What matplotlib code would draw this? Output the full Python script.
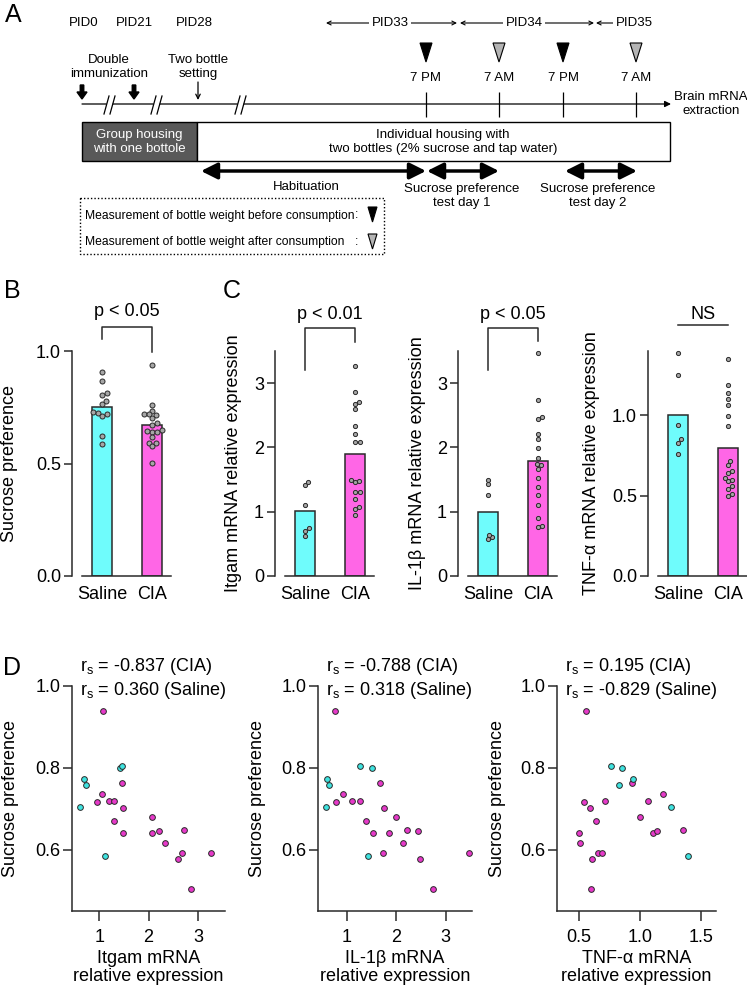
import numpy as np
import matplotlib.pyplot as plt
from matplotlib.patches import Rectangle, Polygon, FancyArrow

plt.rcParams['font.family'] = ['Liberation Sans', 'DejaVu Sans']
plt.rcParams['mathtext.fontset'] = 'custom'
plt.rcParams['mathtext.rm'] = 'Liberation Sans'
plt.rcParams['mathtext.default'] = 'regular'

# ----------------------------
# Data
# ----------------------------

groups = ['Saline', 'CIA']

# panel B (all mice)
sp_saline_b = [0.905, 0.867, 0.812, 0.804, 0.778, 0.763, 0.729, 0.726, 0.719, 0.711, 0.622, 0.588]

# mice with brain mRNA (panels C, D)
sp_saline = [0.704, 0.772, 0.757, 0.799, 0.805, 0.584]
itgam_saline = [0.62, 0.70, 0.74, 1.42, 1.47, 1.11]
il1b_saline = [0.575, 0.60, 0.64, 1.50, 1.26, 1.43]
tnf_saline = [1.25, 0.94, 0.83, 0.85, 0.76, 1.39]

sp_cia = [0.939, 0.716, 0.735, 0.720, 0.718, 0.762, 0.701, 0.670, 0.640,
          0.679, 0.640, 0.646, 0.616, 0.648, 0.593, 0.577, 0.592, 0.504]
itgam_cia = [1.08, 0.95, 1.05, 1.20, 1.30, 1.46, 1.49, 1.31, 1.48,
             2.08, 2.08, 2.21, 2.33, 2.71, 2.68, 2.60, 3.26, 2.86]
il1b_cia = [0.76, 0.78, 0.91, 1.10, 1.26, 1.67, 1.75, 1.38, 1.52,
            1.99, 1.84, 2.44, 2.13, 2.21, 1.72, 2.47, 3.47, 2.74]
tnf_cia = [0.56, 0.544, 1.19, 0.713, 1.066, 0.936, 0.59, 0.642, 0.50,
           0.996, 1.102, 1.137, 0.509, 1.35, 0.653, 0.61, 0.688, 0.60]

rs_cia = ['-0.837', '-0.788', '0.195']
rs_saline = ['0.360', '0.318', '-0.829']

# timeline labels (panel A)
pid_labels = ['PID0', 'PID21', 'PID28']
span_labels = ['PID33', 'PID34', 'PID35']
meas_times = ['7 PM', '7 AM', '7 PM', '7 AM']
meas_kind = ['before', 'after', 'before', 'after']

# ----------------------------
# Figure helpers
# ----------------------------

W, H = 747, 992
fig = plt.figure(figsize=(W / 100, H / 100), dpi=100)

cyan_bar = '#6ffcfc'
mag_bar = '#ff66e6'
cyan_pt = '#3fe3e0'
mag_pt = '#e639c9'
dot_gray = '#a6a6a6'
edge = '#2a2a2a'


def px_axes(left, top, right, bottom):
    return fig.add_axes([left / W, 1 - bottom / H, (right - left) / W, (bottom - top) / H])


def ptext(x, y, s, **kw):
    fig.text(x / W, 1 - y / H, s, **kw)


def swarm(values, y_scale, x_scale, dot):
    # simple beeswarm in pixel space
    placed = []
    offsets = np.zeros(len(values))
    for i in np.argsort(values):
        y = values[i] * y_scale
        found = 0.0
        for step in range(0, 60):
            cands = [0.0] if step == 0 else [step * 0.5, -step * 0.5]
            ok = [c for c in cands
                  if all((c - px) ** 2 + (y - py) ** 2 >= dot ** 2 for px, py in placed)]
            if ok:
                found = ok[0]
                break
        placed.append((found, y))
        offsets[i] = found / x_scale
    return offsets


def style_axes(ax):
    for s in ['top', 'right']:
        ax.spines[s].set_visible(False)
    for s in ['left', 'bottom']:
        ax.spines[s].set_linewidth(1.1)
        ax.spines[s].set_color(edge)
    ax.tick_params(width=1.1, color=edge, labelsize=13, direction='out')


# ----------------------------
# Panel A: timeline
# ----------------------------

axA = fig.add_axes([0, 1 - 270 / H, 1, 270 / H])
axA.set_xlim(0, W)
axA.set_ylim(270, 0)
axA.axis('off')
fa = 9.5

for lab, x in zip(pid_labels, [84, 134, 194]):
    axA.text(x, 23, lab, ha='center', va='center', fontsize=fa)

for lab, (x0, x1, xc, style) in zip(span_labels, [(326, 457, 390, '<->'),
                                                  (460, 594, 524, '<->'),
                                                  (596, 654, 634, '<-')]):
    axA.annotate('', xy=(x1, 23), xytext=(x0, 23),
                 arrowprops=dict(arrowstyle=style, lw=0.8, color='k',
                                 shrinkA=0, shrinkB=0, mutation_scale=7))
    axA.text(xc, 23, lab, ha='center', va='center', fontsize=fa,
             bbox=dict(fc='white', ec='none', pad=1.5))

meas_x = [426, 499, 563, 636]
for x, t, kind in zip(meas_x, meas_times, meas_kind):
    fc = 'black' if kind == 'before' else '#b4b4b4'
    axA.add_patch(Polygon([[x - 6, 43], [x + 6, 43], [x, 62]], closed=True,
                          fc=fc, ec='black', lw=0.8))
    axA.text(x, 78, t, ha='center', va='center', fontsize=fa)

axA.annotate('', xy=(671, 104), xytext=(82, 104),
             arrowprops=dict(arrowstyle='-|>', lw=0.9, color='k',
                             shrinkA=0, shrinkB=0, mutation_scale=9))
axA.vlines(meas_x, 92, 117, color='k', lw=0.9)

for xb in [111, 158, 242]:
    axA.add_patch(Polygon([[xb - 6, 110], [xb - 3, 98], [xb + 3, 98], [xb, 110]],
                          closed=True, fc='white', ec='none', zorder=3))
    axA.plot([xb - 7, xb - 2], [114, 96], color='k', lw=0.9, zorder=4)
    axA.plot([xb - 1, xb + 4], [114, 96], color='k', lw=0.9, zorder=4)

for x in [82, 134]:
    axA.add_patch(FancyArrow(x, 85, 0, 14, width=3.5, head_width=10, head_length=7,
                             length_includes_head=True, color='k'))
axA.annotate('', xy=(198, 100), xytext=(198, 82),
             arrowprops=dict(arrowstyle='->', lw=0.9, color='k',
                             shrinkA=0, shrinkB=0, mutation_scale=8))

axA.text(109, 67, 'Double\nimmunization', ha='center', va='center', fontsize=fa)
axA.text(198, 67, 'Two bottle\nsetting', ha='center', va='center', fontsize=fa)
axA.text(711, 104, 'Brain mRNA\nextraction', ha='center', va='center', fontsize=fa)

axA.add_patch(Rectangle((82, 122), 115, 39, fc='#595959', ec='k', lw=1))
axA.add_patch(Rectangle((197, 122), 473, 39, fc='white', ec='k', lw=1))
axA.text(139, 142, 'Group housing\nwith one bottole', ha='center', va='center',
         fontsize=fa, color='white')
axA.text(443, 142, 'Individual housing with\ntwo bottles (2% sucrose and tap water)',
         ha='center', va='center', fontsize=fa)

for x0, x1 in [(201, 426), (427, 499), (565, 637)]:
    axA.annotate('', xy=(x1, 171), xytext=(x0, 171),
                 arrowprops=dict(arrowstyle='<|-|>,head_length=0.7,head_width=0.35',
                                 lw=2.5, color='k', shrinkA=0, shrinkB=0,
                                 mutation_scale=14))
axA.text(306, 187, 'Habituation', ha='center', va='center', fontsize=fa)
axA.text(462, 196, 'Sucrose preference\ntest day 1', ha='center', va='center', fontsize=fa)
axA.text(598, 196, 'Sucrose preference\ntest day 2', ha='center', va='center', fontsize=fa)

axA.add_patch(Rectangle((80, 198), 304, 56, fill=False, ec='k', lw=1, ls=(0, (1, 1.5))))
axA.text(85, 216, 'Measurement of bottle weight before consumption', va='center', fontsize=8.7)
axA.text(85, 242, 'Measurement of bottle weight after consumption', va='center', fontsize=8.7)
for y, fc in [(207, 'black'), (234, '#b4b4b4')]:
    axA.text(357, y + 8, ':', ha='center', va='center', fontsize=8.7)
    axA.add_patch(Polygon([[368, y], [377, y], [372.5, y + 15]], closed=True,
                          fc=fc, ec='black', lw=0.8))

# ----------------------------
# Panels B and C: bars with dots
# ----------------------------


def bar_panel(left, sal, cia, ytop, ticks, ticklabels, ylabel, label_right, dot_px, ms):
    ax = px_axes(left, 351, left + 99, 576)
    style_axes(ax)
    ax.set_xlim(-0.6, 1.38)
    ax.set_ylim(0, ytop)
    means = [np.mean(sal), np.mean(cia)]
    ax.bar([0, 1], means, width=0.4, color=[cyan_bar, mag_bar],
           edgecolor=edge, linewidth=1.1, zorder=1)
    for pos, vals in zip([0, 1], [sal, cia]):
        off = swarm(vals, 225 / ytop, 50, dot_px)
        ax.scatter(pos + off, vals, s=ms, c=dot_gray, edgecolors=edge,
                   linewidths=0.7, zorder=3, clip_on=False)
    ax.spines['left'].set_bounds(0, ytop)
    ax.spines['bottom'].set_bounds(-0.4, 1.38)
    ax.set_yticks(ticks)
    ax.set_yticklabels(ticklabels)
    ax.set_xticks([0, 1])
    ax.set_xticklabels(groups)
    ax.tick_params(axis='y', length=6, pad=2)
    ax.tick_params(axis='x', length=0, pad=7)
    ax.set_ylabel(ylabel, fontsize=13)
    ax.yaxis.set_label_coords((label_right - left) / 99, 0.5)
    return ax


axB = bar_panel(72, sp_saline_b, sp_cia, 1.0, [0, 0.5, 1.0], ['0.0', '0.5', '1.0'],
                'Sucrose preference', 18.5, 5.0, 13)
axB.plot([0, 0, 1, 1], [1.054, 1.107, 1.107, 0.996], color=edge, lw=1.1, clip_on=False)
axB.text(0.5, 1.174, 'p < 0.05', ha='center', va='center', fontsize=13)

axC1 = bar_panel(275, itgam_saline, itgam_cia, 3.5, [0, 1, 2, 3], ['0', '1', '2', '3'],
                 'Itgam mRNA relative expression', 242.5, 4.2, 9)
axC1.plot([0, 0, 1, 1], [3.204, 3.857, 3.857, 3.64], color=edge, lw=1.1, clip_on=False)
axC1.text(0.5, 4.07, 'p < 0.01', ha='center', va='center', fontsize=13)

axC2 = bar_panel(458, il1b_saline, il1b_cia, 3.5, [0, 1, 2, 3], ['0', '1', '2', '3'],
                 'IL-1β mRNA relative expression', 425.5, 4.2, 9)
axC2.plot([0, 0, 1, 1], [3.204, 3.857, 3.857, 3.655], color=edge, lw=1.1, clip_on=False)
axC2.text(0.5, 4.07, 'p < 0.05', ha='center', va='center', fontsize=13)

axC3 = bar_panel(648, tnf_saline, tnf_cia, 1.4, [0, 0.5, 1.0], ['0.0', '0.5', '1.0'],
                 'TNF-α mRNA relative expression', 600.5, 4.2, 9)
axC3.plot([0, 1], [1.56, 1.56], color=edge, lw=1.1, clip_on=False)
axC3.text(0.5, 1.625, 'NS', ha='center', va='center', fontsize=13)

# ----------------------------
# Panel D: correlations
# ----------------------------


def scatter_panel(left, right, xs_sal, xs_cia, xlim, xticks, xticklabels, xlabel,
                  label_right, rs_c, rs_s):
    ax = px_axes(left, 686, right, 911)
    style_axes(ax)
    ax.set_xlim(*xlim)
    ax.set_ylim(0.45, 1.0)
    ax.scatter(xs_cia, sp_cia, s=17, c=mag_pt, edgecolors=edge, linewidths=0.7,
               zorder=3, clip_on=False)
    ax.scatter(xs_sal, sp_saline, s=17, c=cyan_pt, edgecolors=edge, linewidths=0.7,
               zorder=3, clip_on=False)
    ax.set_yticks([0.6, 0.8, 1.0])
    ax.set_yticklabels(['0.6', '0.8', '1.0'])
    ax.set_xticks(xticks)
    ax.set_xticklabels(xticklabels)
    ax.tick_params(axis='y', length=6.5, pad=2)
    ax.tick_params(axis='x', length=7, pad=6)
    ax.set_ylabel('Sucrose preference', fontsize=13)
    ax.yaxis.set_label_coords((label_right - left) / (right - left), 0.5)
    ax.set_xlabel(xlabel, fontsize=13, linespacing=1.05)
    ax.xaxis.set_label_coords(0.5, -0.175)
    ax.text(8 / (right - left), 1.086, 'r$_s$ = ' + rs_c + ' (CIA)',
            transform=ax.transAxes, fontsize=13, va='center')
    ax.text(8 / (right - left), 0.98, 'r$_s$ = ' + rs_s + ' (Saline)',
            transform=ax.transAxes, fontsize=13, va='center')
    return ax


scatter_panel(72, 225, itgam_saline, itgam_cia, (0.45, 3.55), [1, 2, 3], ['1', '2', '3'],
              'Itgam mRNA\nrelative expression', 18.5, rs_cia[0], rs_saline[0])
scatter_panel(318, 472, il1b_saline, il1b_cia, (0.41, 3.53), [1, 2, 3], ['1', '2', '3'],
              'IL-1β mRNA\nrelative expression', 266.5, rs_cia[1], rs_saline[1])
scatter_panel(557, 716, tnf_saline, tnf_cia, (0.32, 1.62), [0.5, 1.0, 1.5],
              ['0.5', '1.0', '1.5'], 'TNF-α mRNA\nrelative expression', 505.5,
              rs_cia[2], rs_saline[2])

# ----------------------------
# Panel letters
# ----------------------------

for lab, x, y in [('A', 13, 15), ('B', 12, 291), ('C', 232, 291), ('D', 12, 668)]:
    ptext(x, y, lab, fontsize=18, ha='center', va='center')

fig.savefig('out.png', dpi=100)
